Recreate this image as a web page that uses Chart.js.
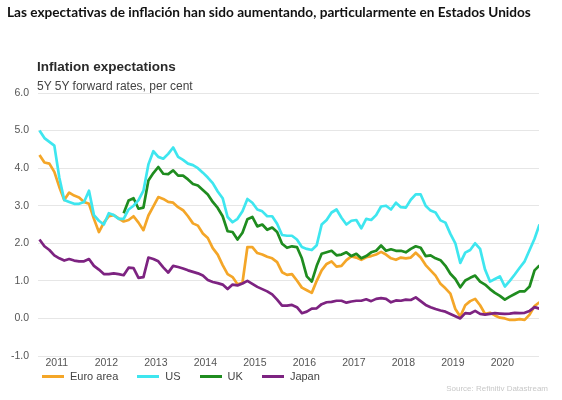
<!DOCTYPE html>
<html>
<head>
<meta charset="utf-8">
<script src="https://cdn.jsdelivr.net/npm/chart.js@4/dist/chart.umd.min.js"></script>
<style>
html,body{margin:0;padding:0;background:#fff;}
#wrap{position:relative;width:562px;height:400px;overflow:hidden;font-family:"Liberation Sans",Arial,sans-serif;}
#title{position:absolute;left:7px;top:4px;font-family:Lato,"Open Sans",sans-serif;font-weight:700;font-size:14px;color:#111;white-space:nowrap;}
#sub1{position:absolute;left:37px;top:59px;font-weight:700;font-size:13.5px;color:#2a2a2a;white-space:nowrap;}
#sub2{position:absolute;left:37px;top:79px;font-size:12px;color:#444;white-space:nowrap;}
canvas{position:absolute;left:0;top:0;}
#legend{position:absolute;left:42px;top:370px;display:flex;align-items:center;font-size:11px;color:#444;white-space:nowrap;}
.item{display:flex;align-items:center;margin-right:19px;}
.sw{width:22px;height:3px;margin-right:6px;}
#source{position:absolute;right:14px;top:384px;font-size:8px;color:#c8c8c8;white-space:nowrap;}
</style>
</head>
<body>
<div id="wrap">
  <canvas id="c" width="562" height="400"></canvas>
  <div id="title">Las expectativas de inflación han sido aumentando, particularmente en Estados Unidos</div>
  <div id="sub1">Inflation expectations</div>
  <div id="sub2">5Y 5Y forward rates, per cent</div>
  <div id="legend"></div>
  <div id="source">Source: Refinitiv Datastream</div>
</div>
<script>
// ---- data (decimal years) ----
const dates = [
  2010.65,2010.75,2010.85,2010.95,2011.05,2011.15,2011.25,2011.35,2011.45,2011.55,
  2011.65,2011.75,2011.85,2011.95,2012.05,2012.15,2012.25,2012.35,2012.45,2012.55,
  2012.65,2012.75,2012.85,2012.95,2013.05,2013.15,2013.25,2013.35,2013.45,2013.55,
  2013.65,2013.75,2013.85,2013.95,2014.05,2014.15,2014.25,2014.35,2014.45,2014.55,
  2014.65,2014.75,2014.85,2014.95,2015.05,2015.15,2015.25,2015.35,2015.45,2015.55,
  2015.65,2015.75,2015.85,2015.95,2016.05,2016.15,2016.25,2016.35,2016.45,2016.55,
  2016.65,2016.75,2016.85,2016.95,2017.05,2017.15,2017.25,2017.35,2017.45,2017.55,
  2017.65,2017.75,2017.85,2017.95,2018.05,2018.15,2018.25,2018.35,2018.45,2018.55,
  2018.65,2018.75,2018.85,2018.95,2019.05,2019.15,2019.25,2019.35,2019.45,2019.55,
  2019.65,2019.75,2019.85,2019.95,2020.05,2020.15,2020.25,2020.35,2020.45,2020.55,
  2020.65,2020.75
];
const euroArea = [
  4.35,4.15,4.12,3.9,3.5,3.15,3.35,3.27,3.22,3.1,
  3.05,2.65,2.3,2.55,2.72,2.75,2.66,2.58,2.62,2.72,
  2.55,2.35,2.74,2.98,3.23,3.18,3.1,3.08,2.96,2.88,
  2.72,2.53,2.47,2.26,2.14,1.87,1.7,1.42,1.18,1.1,
  0.91,0.95,1.9,1.9,1.74,1.7,1.64,1.6,1.5,1.23,
  1.16,1.18,1.01,0.82,0.75,0.68,1.0,1.28,1.45,1.52,
  1.38,1.4,1.55,1.65,1.62,1.56,1.63,1.66,1.7,1.77,
  1.7,1.6,1.56,1.62,1.6,1.62,1.75,1.62,1.42,1.28,
  1.14,0.92,0.8,0.66,0.25,0.05,0.35,0.46,0.52,0.35,
  0.12,0.15,0.08,0.02,0.0,-0.04,-0.04,-0.02,-0.04,0.1,
  0.33,0.43
];
const us = [
  5.0,4.8,4.7,4.6,3.75,3.15,3.1,3.05,3.05,3.1,
  3.4,2.75,2.6,2.5,2.8,2.75,2.65,2.65,2.9,3.0,
  3.15,3.4,4.1,4.45,4.3,4.25,4.38,4.55,4.3,4.22,
  4.12,4.08,4.0,3.88,3.75,3.6,3.38,3.2,2.7,2.56,
  2.65,2.85,3.18,3.08,2.9,2.85,2.72,2.72,2.52,2.22,
  2.2,2.2,2.1,1.9,1.85,1.82,1.95,2.5,2.62,2.82,
  2.9,2.68,2.5,2.6,2.62,2.4,2.65,2.62,2.75,2.98,
  3.0,2.9,3.08,2.96,2.95,3.16,3.3,3.3,3.0,2.87,
  2.82,2.61,2.55,2.25,2.0,1.48,1.75,1.82,2.0,1.85,
  1.3,0.98,1.05,1.12,0.85,1.0,1.17,1.35,1.52,1.82,
  2.12,2.5
];
const uk = [
  null,null,null,null,null,null,null,null,null,null,
  null,null,null,null,null,null,null,2.8,3.14,3.2,
  2.92,2.95,3.67,3.87,4.03,3.85,3.84,3.94,3.8,3.8,
  3.7,3.58,3.54,3.42,3.3,3.1,2.94,2.72,2.32,2.3,
  2.1,2.28,2.64,2.7,2.45,2.5,2.36,2.42,2.3,1.99,
  1.88,1.92,1.9,1.6,1.12,0.98,1.4,1.72,1.76,1.8,
  1.68,1.7,1.76,1.66,1.72,1.6,1.66,1.76,1.8,1.94,
  1.8,1.84,1.8,1.8,1.76,1.85,1.92,1.88,1.66,1.68,
  1.6,1.55,1.4,1.19,1.05,0.83,1.01,1.08,1.14,0.98,
  0.9,0.78,0.68,0.6,0.5,0.58,0.65,0.72,0.72,0.85,
  1.28,1.41
];
const japan = [
  2.1,1.92,1.82,1.68,1.6,1.54,1.58,1.54,1.52,1.52,
  1.58,1.4,1.3,1.18,1.18,1.2,1.18,1.15,1.35,1.34,
  1.08,1.1,1.62,1.58,1.52,1.36,1.22,1.4,1.37,1.33,
  1.28,1.24,1.2,1.14,1.02,0.97,0.94,0.9,0.78,0.9,
  0.88,0.93,1.0,0.92,0.84,0.78,0.72,0.64,0.5,0.34,
  0.34,0.36,0.3,0.14,0.18,0.26,0.27,0.38,0.43,0.44,
  0.47,0.47,0.42,0.45,0.47,0.47,0.51,0.46,0.52,0.54,
  0.52,0.43,0.48,0.47,0.5,0.49,0.56,0.46,0.36,0.3,
  0.25,0.21,0.18,0.12,0.06,0.0,0.14,0.13,0.2,0.12,
  0.1,0.12,0.14,0.13,0.12,0.13,0.15,0.14,0.15,0.2,
  0.3,0.26
];
const yearTicks = [2011,2012,2013,2014,2015,2016,2017,2018,2019,2020];
const valueTicks = [-1,0,1,2,3,4,5,6];
const seriesNames = ["Euro area","US","UK","Japan"];
const seriesColors = ["#f4a628","#3ee6ef","#1f8c1f","#7d2381"];
const seriesData = [euroArea, us, uk, japan];
const drawOrder = [4, 1, 2, 3];

// ---- title fit ----
(function(){
  const t = document.getElementById('title');
  const w = t.getBoundingClientRect().width;
  if (w > 0) t.style.fontSize = (14 * 524 / w).toFixed(2) + 'px';
})();

// ---- legend ----
const lg = document.getElementById('legend');
seriesNames.forEach((n,i)=>{
  const it = document.createElement('div'); it.className='item';
  const sw = document.createElement('span'); sw.className='sw'; sw.style.background = seriesColors[i];
  const tx = document.createElement('span'); tx.textContent = n;
  it.appendChild(sw); it.appendChild(tx); lg.appendChild(it);
});

// ---- chart ----
Chart.defaults.font.family = '"Liberation Sans", Arial, sans-serif';
const datasets = seriesNames.map((n,i)=>({
  label: n,
  data: dates.map((d,j)=>({x:d, y:seriesData[i][j]})),
  borderColor: seriesColors[i],
  backgroundColor: seriesColors[i],
  borderWidth: 2.7,
  pointRadius: 0,
  tension: 0,
  spanGaps: false,
  borderJoinStyle: 'round',
  order: drawOrder[i]
}));

new Chart(document.getElementById('c'), {
  type: 'line',
  data: { datasets },
  options: {
    responsive: false,
    animation: false,
    devicePixelRatio: 1,
    layout: { padding: { left: 0, right: 23, top: 93, bottom: 24 } },
    plugins: { legend: { display: false }, tooltip: { enabled: false }, title: { display: false } },
    scales: {
      x: {
        type: 'linear', min: 2010.62, max: 2020.74,
        grid: { display: false, drawTicks: false },
        border: { display: false },
        ticks: { padding: 1, color: '#555', font: { size: 10.5 }, autoSkip: false, maxRotation: 0, includeBounds: false,
                 callback: v => String(v) },
        afterBuildTicks: s => { s.ticks = yearTicks.map(v => ({ value: v })); },
        afterFit: s => { s.height = 20; }
      },
      y: {
        min: -1, max: 6,
        grid: { color: '#e6e6e6', lineWidth: 1, drawTicks: false },
        border: { display: false },
        ticks: { padding: 9, color: '#555', font: { size: 10.5 }, callback: v => Number(v).toFixed(1) },
        afterBuildTicks: s => { s.ticks = valueTicks.map(v => ({ value: v })); },
        afterFit: s => { s.width = 38; }
      }
    }
  }
});
</script>
</body>
</html>
